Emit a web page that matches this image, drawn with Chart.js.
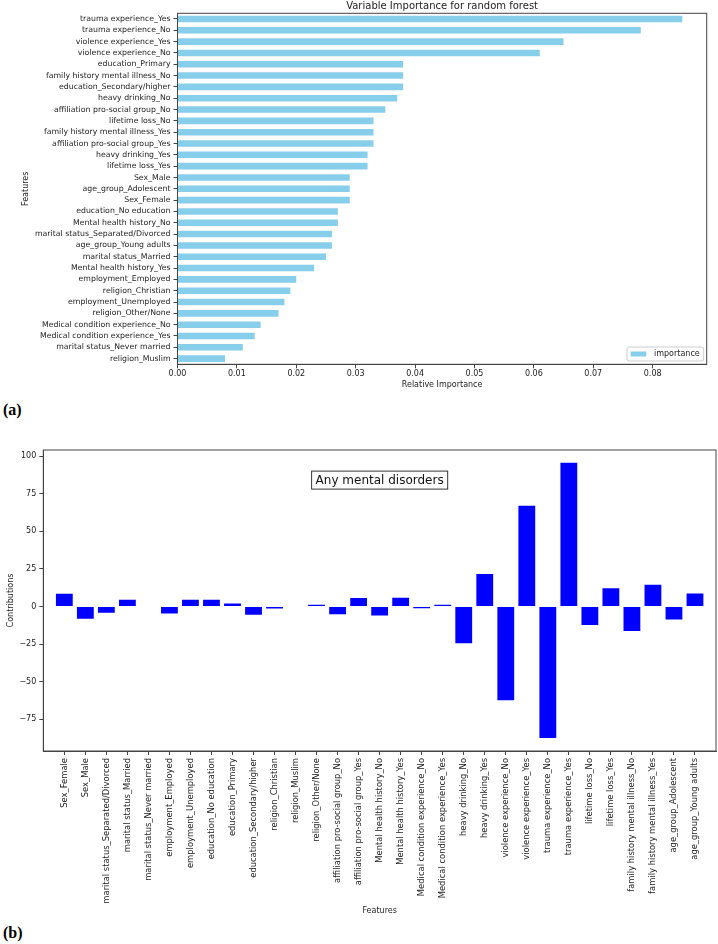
<!DOCTYPE html>
<html>
<head>
<meta charset="utf-8">
<script src="https://cdn.jsdelivr.net/npm/chart.js@4.4.1/dist/chart.umd.min.js"></script>
<style>
  body { margin: 0; background: #fff; }
  #page { position: relative; width: 718px; height: 944px; }
  canvas { position: absolute; left: 0; }
  .panel { position: absolute; left: 3px; font: bold 16px "Liberation Serif", serif; color: #000; }
</style>
</head>
<body>
<div id="page">
  <canvas id="importanceChart" width="718" height="400" style="top:0"></canvas>
  <div class="panel" style="top:401px">(a)</div>
  <canvas id="contribChart" width="718" height="500" style="top:420px"></canvas>
  <div class="panel" style="top:924px">(b)</div>
</div>
<script>
// (a) random forest importance, top to bottom
const importanceFeatures = [
   'trauma experience_Yes', 'trauma experience_No', 'violence experience_Yes', 'violence experience_No',
   'education_Primary', 'family history mental illness_No', 'education_Secondary/higher', 'heavy drinking_No',
   'affiliation pro-social group_No', 'lifetime loss_No', 'family history mental illness_Yes',
   'affiliation pro-social group_Yes', 'heavy drinking_Yes', 'lifetime loss_Yes', 'Sex_Male',
   'age_group_Adolescent', 'Sex_Female', 'education_No education', 'Mental health history_No',
   'marital status_Separated/Divorced', 'age_group_Young adults', 'marital status_Married',
   'Mental health history_Yes', 'employment_Employed', 'religion_Christian', 'employment_Unemployed',
   'religion_Other/None', 'Medical condition experience_No', 'Medical condition experience_Yes',
   'marital status_Never married', 'religion_Muslim'
];
const importanceValues = [
   0.085, 0.078, 0.065, 0.061,
   0.038, 0.038, 0.038, 0.037,
   0.035, 0.033, 0.033,
   0.033, 0.032, 0.032, 0.029,
   0.029, 0.029, 0.027, 0.027,
   0.026, 0.026, 0.025,
   0.023, 0.020, 0.019, 0.018,
   0.017, 0.014, 0.013,
   0.011, 0.008
];
const importanceTicks = [0, 0.01, 0.02, 0.03, 0.04, 0.05, 0.06, 0.07, 0.08];

// (b) contributions for "Any mental disorders"
const contribFeatures = [
   'Sex_Female', 'Sex_Male', 'marital status_Separated/Divorced', 'marital status_Married',
   'marital status_Never married', 'employment_Employed', 'employment_Unemployed',
   'education_No education', 'education_Primary', 'education_Secondary/higher',
   'religion_Christian', 'religion_Muslim', 'religion_Other/None',
   'affiliation pro-social group_No', 'affiliation pro-social group_Yes',
   'Mental health history_No', 'Mental health history_Yes',
   'Medical condition experience_No', 'Medical condition experience_Yes',
   'heavy drinking_No', 'heavy drinking_Yes', 'violence experience_No', 'violence experience_Yes',
   'trauma experience_No', 'trauma experience_Yes', 'lifetime loss_No', 'lifetime loss_Yes',
   'family history mental illness_No', 'family history mental illness_Yes',
   'age_group_Adolescent', 'age_group_Young adults'
];
const contribValues = [
   8.5, -8.2, -4.2, 4.5,
   0, -4.7, 4.5,
   4.5, 2.0, -5.5,
   -1.3, 0, 1.2,
   -5.1, 5.6,
   -6.0, 5.8,
   -1.1, 1.2,
   -24.4, 21.6, -62.2, 67.0,
   -87.3, 95.5, -12.2, 12.2,
   -16.2, 14.5,
   -8.7, 8.7
];
const contribTicks = [-75, -50, -25, 0, 25, 50, 75, 100];

const FONT = '"DejaVu Sans", sans-serif';
const SPINE = '#444';
Chart.defaults.font.family = FONT;
Chart.defaults.font.size = 8;
Chart.defaults.color = '#222';

// matplotlib draws all four spines
const framePlugin = {
   id: 'frame',
   afterDraw(chart) {
      const {ctx, chartArea: a} = chart;
      ctx.save();
      ctx.strokeStyle = SPINE;
      ctx.lineWidth = 1;
      ctx.strokeRect(a.left, a.top, a.right - a.left, a.bottom - a.top);
      ctx.restore();
   }
};

const axesTitlePlugin = {
   id: 'axesTitle',
   afterDraw(chart, args, opts) {
      const {ctx, chartArea: a} = chart;
      ctx.save();
      ctx.font = '10px ' + FONT;
      ctx.fillStyle = '#222';
      ctx.textAlign = 'center';
      ctx.textBaseline = 'middle';
      ctx.fillText(opts.text, (a.left + a.right) / 2, a.top - 7);
      ctx.restore();
   }
};

// legend in the lower right corner of the axes
const innerLegendPlugin = {
   id: 'innerLegend',
   afterDraw(chart) {
      const {ctx, chartArea: a} = chart;
      const ds = chart.data.datasets[0];
      ctx.save();
      ctx.font = '8px ' + FONT;
      const tw = ctx.measureText(ds.label).width;
      const w = 3.7 + 15.6 + 7.7 + tw + 4;
      const h = 14;
      const x = a.right - 3 - w;
      const y = a.bottom - 3.3 - h;
      ctx.fillStyle = 'rgba(255,255,255,0.8)';
      ctx.strokeStyle = '#ccc';
      ctx.lineWidth = 1;
      ctx.beginPath();
      ctx.roundRect(x, y, w, h, 2);
      ctx.fill();
      ctx.stroke();
      ctx.fillStyle = ds.backgroundColor;
      ctx.fillRect(x + 3.7, y + h / 2 - 2.5, 15.6, 5);
      ctx.fillStyle = '#222';
      ctx.textBaseline = 'middle';
      ctx.fillText(ds.label, x + 3.7 + 15.6 + 7.7, y + h / 2);
      ctx.restore();
   }
};

const textBoxPlugin = {
   id: 'textBox',
   afterDraw(chart, args, opts) {
      const {ctx, chartArea: a} = chart;
      const cx = (a.left + a.right) / 2;
      const cy = a.top + 0.1 * (a.bottom - a.top);
      ctx.save();
      ctx.font = '12px ' + FONT;
      const tw = ctx.measureText(opts.text).width;
      const w = tw + 8, h = 18;
      ctx.fillStyle = '#fff';
      ctx.fillRect(cx - w / 2, cy - h / 2, w, h);
      ctx.strokeStyle = '#333';
      ctx.lineWidth = 1;
      ctx.strokeRect(cx - w / 2, cy - h / 2, w, h);
      ctx.fillStyle = '#111';
      ctx.textAlign = 'center';
      ctx.textBaseline = 'middle';
      ctx.fillText(opts.text, cx, cy + 0.5);
      ctx.restore();
   }
};

const tickGrid = {drawOnChartArea: false, offset: false, tickLength: 4, color: SPINE};
const minus = v => v < 0 ? '\u2212' + Math.abs(v) : String(v);

new Chart(document.getElementById('importanceChart'), {
   type: 'bar',
   data: {
      labels: importanceFeatures,
      datasets: [{
         label: 'importance',
         data: importanceValues,
         backgroundColor: '#87CEEB',
         categoryPercentage: 1,
         barPercentage: 0.58
      }]
   },
   options: {
      responsive: false,
      animation: false,
      indexAxis: 'y',
      layout: {padding: {top: 13.3, right: 11.3, left: 0, bottom: 0}},
      plugins: {
         legend: {display: false},
         tooltip: {enabled: false},
         axesTitle: {text: 'Variable Importance for random forest'}
      },
      scales: {
         x: {
            type: 'linear',
            min: 0,
            max: 0.0891,
            afterBuildTicks: s => { s.ticks = importanceTicks.map(v => ({value: v})); },
            afterFit: s => { s.height = 35.7; },
            ticks: {callback: v => v.toFixed(2), padding: 1, maxRotation: 0},
            grid: tickGrid,
            border: {color: SPINE},
            title: {display: true, text: 'Relative Importance', padding: {top: 0, bottom: 10}}
         },
         y: {
            afterFit: s => { s.width = 177.5; },
            ticks: {autoSkip: false, padding: 3, font: {size: 7.8}},
            grid: tickGrid,
            border: {color: SPINE},
            title: {display: true, text: 'Features', padding: {top: 21, bottom: 0}}
         }
      }
   },
   plugins: [framePlugin, axesTitlePlugin, innerLegendPlugin]
});

new Chart(document.getElementById('contribChart'), {
   type: 'bar',
   data: {
      datasets: [{
         label: 'Contributions',
         data: contribValues.map((v, i) => ({x: i, y: v})),
         backgroundColor: '#0000ff',
         categoryPercentage: 1,
         barPercentage: 0.8
      }]
   },
   options: {
      responsive: false,
      animation: false,
      layout: {padding: {top: 30, right: 2, left: 0, bottom: 0}},
      plugins: {
         legend: {display: false},
         tooltip: {enabled: false},
         textBox: {text: 'Any mental disorders'}
      },
      scales: {
         x: {
            type: 'linear',
            min: -1,
            max: 31,
            offset: false,
            afterBuildTicks: s => { s.ticks = contribFeatures.map((f, i) => ({value: i})); },
            afterFit: s => { s.height = 169; },
            ticks: {callback: v => contribFeatures[v], minRotation: 90, maxRotation: 90, autoSkip: false, padding: 3, font: {size: 8.4}},
            grid: tickGrid,
            border: {color: SPINE},
            title: {display: true, text: 'Features', padding: {top: 0, bottom: 4}}
         },
         y: {
            min: -96,
            max: 104,
            afterBuildTicks: s => { s.ticks = contribTicks.map(v => ({value: v})); },
            afterFit: s => { s.width = 43.3; },
            ticks: {callback: minus, padding: 3},
            grid: tickGrid,
            border: {color: SPINE},
            title: {display: true, text: 'Contributions', padding: {top: 6, bottom: 0}}
         }
      }
   },
   plugins: [framePlugin, textBoxPlugin]
});
</script>
</body>
</html>
